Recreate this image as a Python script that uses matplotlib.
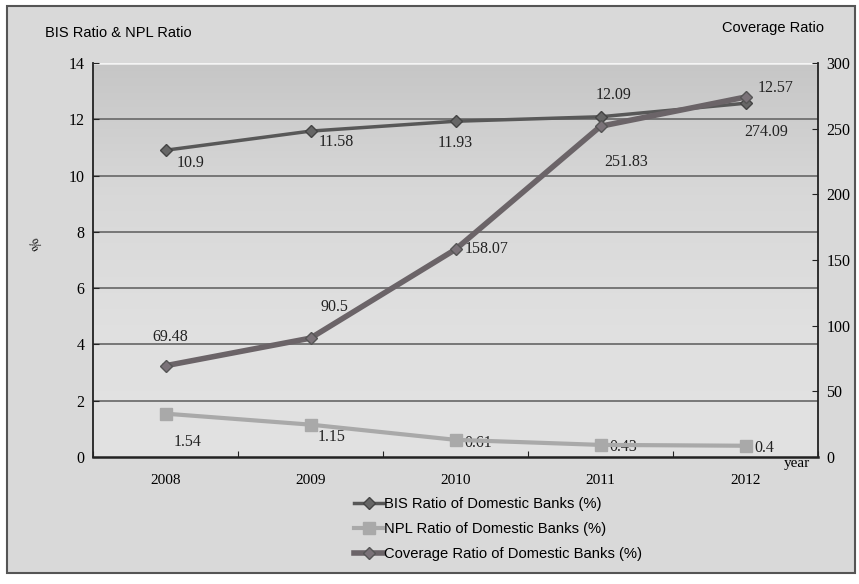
import matplotlib
matplotlib.use("Agg")
import matplotlib.pyplot as plt
import numpy as np
from matplotlib.lines import Line2D
from matplotlib.patches import Rectangle
from matplotlib import font_manager

years = ["2008", "2009", "2010", "2011", "2012"]
bis = [10.9, 11.58, 11.93, 12.09, 12.57]
npl = [1.54, 1.15, 0.61, 0.43, 0.4]
coverage = [69.48, 90.5, 158.07, 251.83, 274.09]
left_ticks = [0, 2, 4, 6, 8, 10, 12, 14]
right_ticks = [0, 50, 100, 150, 200, 250, 300]

serif = "Liberation Serif"
sans = "Liberation Sans"
try:
    font_manager.findfont("Liberation Sans Narrow", fallback_to_default=False)
    narrow = "Liberation Sans Narrow"
    narrow_ok = True
except Exception:
    narrow = sans
    narrow_ok = False

fig = plt.figure(figsize=(8.59, 5.84), dpi=100)
fig.patch.set_facecolor("white")
fig.patches.append(Rectangle((7/859, 1-573/584), (855-7)/859, (573-6)/584,
                             transform=fig.transFigure, facecolor="#d9d9d9",
                             edgecolor="#555555", linewidth=1.5, zorder=-10))

ax = fig.add_axes([93/859, 1-457/584, (818-93)/859, (457-63)/584])
ax.set_facecolor("none")
grad = np.linspace(0, 1, 256).reshape(-1, 1)
ax.imshow(grad, extent=[0, 1, 0, 1], transform=ax.transAxes, aspect="auto",
          cmap=matplotlib.colors.LinearSegmentedColormap.from_list("g", ["#c6c6c6", "#d8d8d8", "#e0e0e0", "#e2e2e2"]),
          origin="upper", zorder=0)

x = np.arange(len(years)) + 0.5
ax.set_xlim(0, len(years))
ax.set_ylim(0, 14)
ax.set_yticks(left_ticks)
ax.set_yticklabels([str(t) for t in left_ticks], fontfamily=serif, fontsize=11.5)
ax.set_xticks(np.arange(len(years) + 1))
ax.set_xticklabels([])
ax.set_xticks(x, minor=True)
ax.set_xticklabels(years, minor=True, fontfamily=serif, fontsize=11)
ax.tick_params(axis="x", which="minor", length=0, pad=12)
ax.tick_params(axis="x", which="major", direction="in", length=4, color="#222222")
ax.tick_params(axis="y", direction="in", length=4, color="#222222", pad=6)
for t in left_ticks[1:-1]:
    ax.axhline(t, color="#6f6f6f", lw=1.3, zorder=1)
ax.axhline(14, color="#f4f4f4", lw=1.8, zorder=1)
for s in ["top", "right"]:
    ax.spines[s].set_visible(False)
ax.spines["left"].set_color("#222222")
ax.spines["bottom"].set_color("#222222")
ax.spines["bottom"].set_linewidth(1.8)
ax.spines["left"].set_linewidth(1.3)

ax2 = ax.twinx()
ax2.set_ylim(0, 300)
ax2.set_yticks(right_ticks)
ax2.set_yticklabels([str(t) for t in right_ticks], fontfamily=serif, fontsize=11.5)
ax2.tick_params(axis="y", direction="in", length=4, color="#222222", pad=6)
for s in ["top", "left", "bottom"]:
    ax2.spines[s].set_visible(False)
ax2.spines["right"].set_color("#222222")
ax2.spines["right"].set_linewidth(1.3)

bis_c = "#585858"
npl_c = "#a9a9a9"
cov_c = "#6b6468"

ax.plot(x, bis, color=bis_c, lw=2.5, marker="D", ms=6.5, mfc="#666666", mec="#444444", zorder=5)
ax.plot(x, npl, color=npl_c, lw=3, marker="s", ms=8, mfc="#a9a9a9", mec="#a9a9a9", zorder=5)
ax2.plot(x, coverage, color=cov_c, lw=4, marker="D", ms=6.5, mfc="#7a7278", mec="#555555", zorder=5)

lab = dict(fontfamily=serif, fontsize=11.5, color="#222222", ha="center", va="center")
bis_off = [(0.17, -0.45), (0.176, -0.39), (0.0, -0.77), (0.09, 0.78), (0.21, 0.54)]
for xi, v, (dx, dy) in zip(x, bis, bis_off):
    ax.text(xi + dx, v + dy, f"{v:g}", **lab)
npl_off = [(0.15, -1.02), (0.145, -0.44), (0.155, -0.11), (0.155, -0.07), (0.13, -0.08)]
for xi, v, (dx, dy) in zip(x, npl, npl_off):
    ax.text(xi + dx, v + dy, f"{v:g}", **lab)
cov_off = [(0.03, 22), (0.165, 23.6), (0.214, 0), (0.18, -27), (0.145, -27)]
for xi, v, (dx, dy) in zip(x, coverage, cov_off):
    ax2.text(xi + dx, v + dy, f"{v:g}", **lab)

tsize = 12.5 if narrow_ok else 10.5
fig.text(45/859, 1-33/584, "BIS Ratio & NPL Ratio", fontfamily=narrow, fontsize=tsize, va="center", ha="left")
fig.text(722/859, 1-28/584, "Coverage Ratio", fontfamily=narrow, fontsize=tsize, va="center", ha="left")
fig.text(32/859, 1-245/584, "%", fontfamily=serif, fontsize=10, rotation=-60, va="center", ha="center")
fig.text(797/859, 1-463/584, "year", fontfamily=serif, fontsize=11, va="center", ha="center")

handles = [
    Line2D([], [], color=bis_c, lw=2.5, marker="D", ms=6.5, mfc="#666666", mec="#444444"),
    Line2D([], [], color=npl_c, lw=3, marker="s", ms=8, mfc="#a9a9a9", mec="#a9a9a9"),
    Line2D([], [], color=cov_c, lw=4, marker="D", ms=6.5, mfc="#7a7278", mec="#555555"),
]
labels = ["BIS Ratio of Domestic Banks (%)", "NPL Ratio of Domestic Banks (%)",
          "Coverage Ratio of Domestic Banks (%)"]
fig.legend(handles, labels, loc="upper left", bbox_to_anchor=(348/859, 1-491/584),
           frameon=False, prop={"family": narrow, "size": 13 if narrow_ok else 10.6},
           handlelength=2.0 if not narrow_ok else 1.8,
           handletextpad=0.05, labelspacing=0.55 if narrow_ok else 0.75, borderaxespad=0)

fig.savefig("out.png", dpi=100)
